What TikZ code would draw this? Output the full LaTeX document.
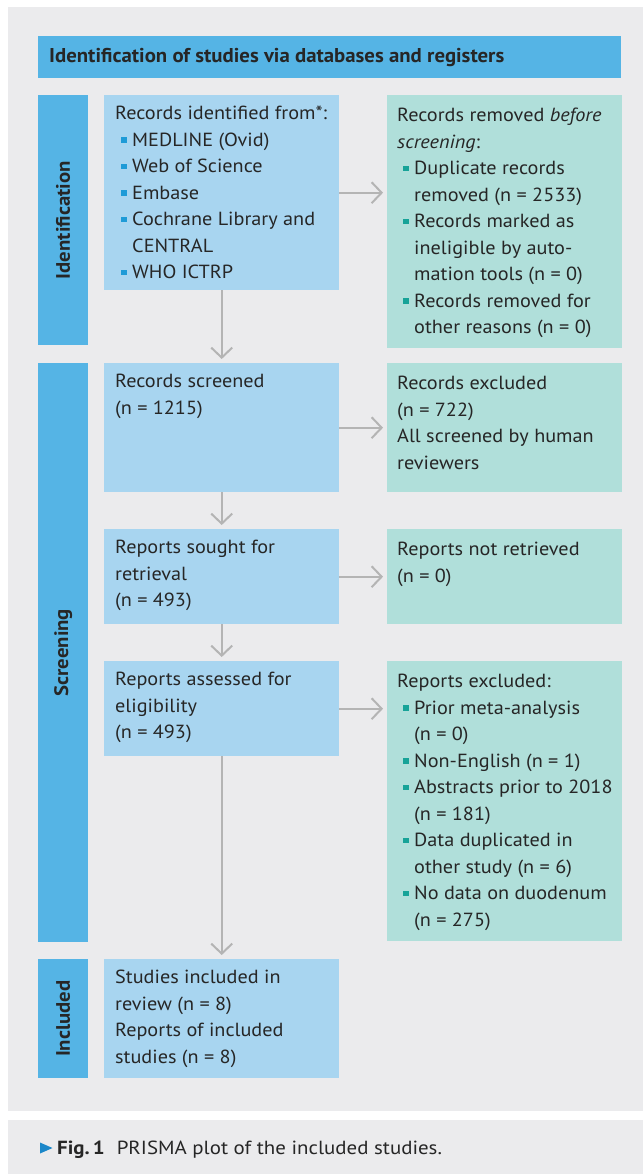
\documentclass[tikz,border=0pt]{standalone}
\usepackage{fontspec}
\setmainfont[FakeStretch=1.065]{PT Sans}
\newfontfamily\hdfont[FakeStretch=1.04]{PT Sans}
\newfontfamily\capfont[FakeStretch=1.1]{PT Sans}
\usetikzlibrary{arrows.meta}
\definecolor{bg}{HTML}{EBEBED}
\definecolor{hb}{HTML}{55B4E5}
\definecolor{lb}{HTML}{A8D5F0}
\definecolor{tb}{HTML}{B0DFDA}
\definecolor{bulB}{HTML}{1E9BD7}
\definecolor{bulG}{HTML}{17A398}
\definecolor{arr}{HTML}{B4B4B4}
\definecolor{txt}{HTML}{262626}
\definecolor{capb}{HTML}{1B87C9}
\newlength\padx
\newcommand\pl{\par\leftskip=\padx\noindent}
\newcommand\bl[1]{\par\leftskip=\dimexpr\padx+17pt\relax\noindent\llap{\textcolor{#1}{\rule[3.4pt]{5.5pt}{5.5pt}}\hspace{5.5pt}}}
\newcommand\bxt[3]{\parbox[t][#1][t]{235pt}{\setlength\padx{#2}\raggedright #3}}
\tikzset{
  bodyf/.style={font=\fontsize{19}{26.5}\selectfont, text=txt},
  lbox/.style={fill=lb, inner sep=0pt, anchor=north west, bodyf},
  rbox/.style={fill=tb, inner sep=0pt, anchor=north west, bodyf},
  sidebar/.style={fill=hb, inner sep=0pt, anchor=north west, minimum width=50pt},
  sidelabel/.style={rotate=90, text=txt, font=\fontsize{19.5}{21}\selectfont\bfseries, inner sep=0pt},
  flow/.style={draw=arr, line width=2pt, -{Straight Barb[length=10pt,width=21pt]}, shorten >=4pt}
}
\begin{document}
\begin{tikzpicture}[x=1pt,y=-1pt]
\useasboundingbox (0,0) rectangle (643,1174);
\fill[white] (0,0) rectangle (643,1174);
\fill[bg] (8,7) rectangle (643,1111);
\fill[bg] (8,1120) rectangle (643,1174);
% header
\node[fill=hb, inner sep=0pt, anchor=north west, minimum width=583pt, minimum height=42pt] (hdr) at (38,36) {};
\node[anchor=base west, inner sep=0pt, text=txt, font=\hdfont\fontsize{20}{22}\selectfont\bfseries] (hdrt) at (49,63) {Identification of studies via databases and registers};
% side bars
\node[sidebar, minimum height=250pt] (sbI) at (38,95) {};
\node[sidelabel] (lbI) at (sbI.center) {Identification};
\node[sidebar, minimum height=579pt] (sbS) at (38,363) {};
\node[sidelabel] (lbS) at (sbS.center) {Screening};
\node[sidebar, minimum height=119pt] (sbN) at (38,959) {};
\node[sidelabel] (lbN) at (sbN.center) {Included};
% left boxes
\node[lbox] (idn) at (104,95) {\bxt{195pt}{11pt}{%
\pl\rule{0pt}{24.5pt}Records identified from*:
\bl{bulB}MEDLINE (Ovid)
\bl{bulB}Web of Science
\bl{bulB}Embase
\bl{bulB}Cochrane Library and\\CENTRAL
\bl{bulB}WHO ICTRP}};
\node[lbox] (scr) at (104,363) {\bxt{129pt}{11pt}{%
\pl\rule{0pt}{24.5pt}Records screened\\(n = 1215)}};
\node[lbox] (sgt) at (104,529) {\bxt{95pt}{11pt}{%
\pl\rule{0pt}{24.5pt}Reports sought for\\retrieval\\(n = 493)}};
\node[lbox] (asd) at (104,661) {\bxt{95pt}{11pt}{%
\pl\rule{0pt}{24.5pt}Reports assessed for\\eligibility\\(n = 493)}};
\node[lbox] (inc) at (104,959) {\bxt{119pt}{11pt}{%
\pl\rule{0pt}{24.5pt}Studies included in\\review (n = 8)\\Reports of included\\studies (n = 8)}};
% right boxes
\node[rbox] (rem) at (387,95) {\bxt{253pt}{10pt}{%
\pl\rule{0pt}{26.5pt}Records removed \emph{before}\\\emph{screening}:
\bl{bulG}Duplicate records\\removed (n = 2533)
\bl{bulG}Records marked as\\ineligible by auto-\\mation tools (n = 0)
\bl{bulG}Records removed for\\other reasons (n = 0)}};
\node[rbox] (exc) at (387,363) {\bxt{129pt}{10pt}{%
\pl\rule{0pt}{26.5pt}Records excluded\\(n = 722)\\All screened by human\\reviewers}};
\node[rbox] (nrt) at (387,529) {\bxt{95pt}{10pt}{%
\pl\rule{0pt}{26.5pt}Reports not retrieved\\(n = 0)}};
\node[rbox] (rex) at (387,661) {\bxt{280pt}{10pt}{%
\pl\rule{0pt}{26.5pt}Reports excluded:
\bl{bulG}Prior meta-analysis\\(n = 0)
\bl{bulG}Non-English (n = 1)
\bl{bulG}Abstracts prior to 2018\\(n = 181)
\bl{bulG}Data duplicated in\\other study (n = 6)
\bl{bulG}No data on duodenum\\(n = 275)}};
% arrows
\draw[flow] (idn.east) -- (idn.east -| rem.west);
\draw[flow] (scr.east) -- (scr.east -| exc.west);
\draw[flow] (sgt.east) -- (sgt.east -| nrt.west);
\draw[flow] (asd.east) -- (asd.east -| rex.west);
\draw[flow] (idn.south) -- (scr.north);
\draw[flow] (scr.south) -- (sgt.north);
\draw[flow] (sgt.south) -- (asd.north);
\draw[flow] (asd.south) -- (inc.north);
% caption
\fill[capb] (40,1142.5) -- (52.5,1148) -- (40,1153.5) -- cycle;
\node[anchor=base west, inner sep=0pt, text=txt, font=\capfont\fontsize{19}{21}\selectfont] (cap) at (57,1154) {\textbf{Fig.\,1}\hspace{12pt}PRISMA plot of the included studies.};
\end{tikzpicture}
\end{document}
